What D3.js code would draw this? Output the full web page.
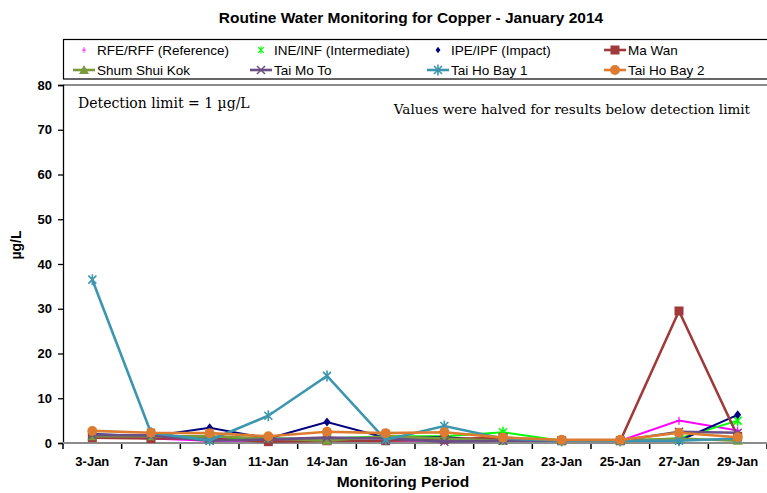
<!DOCTYPE html>
<html><head><meta charset="utf-8">
<script src="https://cdn.jsdelivr.net/npm/d3@7"></script>
<style>body{margin:0;background:#fff}svg{display:block}</style>
</head><body>
<script>
const categories = ["3-Jan","7-Jan","9-Jan","11-Jan","14-Jan","16-Jan","18-Jan","21-Jan","23-Jan","25-Jan","27-Jan","29-Jan"];
const rfe  = [1.5,1.0,0.5,0.5,0.5,0.5,0.5,0.5,0.5,0.5,5.0,2.8];
const ine  = [1.5,1.5,1.0,1.0,1.0,1.5,1.5,2.4,0.5,0.5,1.0,5.0];
const ipe  = [2.0,1.5,3.4,1.0,4.7,1.2,1.3,0.5,0.5,0.5,0.5,6.3];
const maWan = [1.2,1.0,1.0,0.3,0.5,0.5,0.8,1.2,0.5,0.5,29.5,1.5];
const shumShuiKok = [1.5,1.5,1.5,1.0,0.5,1.5,1.0,0.5,0.5,0.5,1.0,0.5];
const taiMoTo = [1.8,1.7,0.5,0.8,1.2,1.0,0.3,0.5,0.5,0.5,2.5,2.3];
const taiHoBay1 = [36.5,2.3,0.6,6.1,15.0,0.7,3.8,1.0,0.5,0.5,0.5,1.0];
const taiHoBay2 = [2.7,2.3,2.2,1.5,2.5,2.2,2.4,1.2,0.7,0.7,2.3,1.3];
const yTicks = [0,10,20,30,40,50,60,70,80];

const series = [
  {name:"RFE/RFF (Reference)", values:rfe, color:"#FF00FF", marker:"plus", legendLine:false},
  {name:"INE/INF (Intermediate)", values:ine, color:"#00FF00", marker:"star", legendLine:false},
  {name:"IPE/IPF (Impact)", values:ipe, color:"#000080", marker:"diamond", legendLine:false},
  {name:"Ma Wan", values:maWan, color:"#A0393A", marker:"square", legendLine:true},
  {name:"Shum Shui Kok", values:shumShuiKok, color:"#7A9A3C", marker:"triangle", legendLine:true},
  {name:"Tai Mo To", values:taiMoTo, color:"#6A4F86", marker:"x", legendLine:true},
  {name:"Tai Ho Bay 1", values:taiHoBay1, color:"#3D96AE", marker:"star", legendLine:true},
  {name:"Tai Ho Bay 2", values:taiHoBay2, color:"#DD7C31", marker:"circle", legendLine:true}
];

const W = 767, H = 493;
const svg = d3.select("body").append("svg").attr("width", W).attr("height", H);
const pLeft = 63, pRight = 767, pTop = 85, pBottom = 443;
const SANS = "Liberation Sans, Arial, sans-serif";

const xBand = d3.scaleBand().domain(categories).range([pLeft, pRight]);
const y = d3.scaleLinear().domain([0, 80]).range([pBottom, pTop]);
const cx = c => xBand(c) + xBand.bandwidth() / 2;

// title
svg.append("text").attr("x", 411).attr("y", 23).attr("text-anchor", "middle")
  .attr("font-family", SANS).attr("font-weight", "bold")
  .attr("font-size", 15.5).text("Routine Water Monitoring for Copper - January 2014");

// plot top border
svg.append("line").attr("x1", pLeft).attr("x2", pRight).attr("y1", pTop).attr("y2", pTop)
  .attr("stroke", "#8c8c8c").attr("stroke-width", 2);

// y axis
const yAxis = d3.axisLeft(y).tickValues(yTicks).tickSize(5).tickPadding(6);
const gy = svg.append("g").attr("transform", `translate(${pLeft},0)`).call(yAxis);
gy.select(".domain").attr("stroke", "#000").attr("stroke-width", 1.3);
gy.selectAll(".tick line").attr("stroke", "#000").attr("stroke-width", 1.3);
gy.selectAll("text").attr("font-family", SANS)
  .attr("font-weight", "bold").attr("font-size", 13).attr("fill", "#000");

// x axis
const xAxis = d3.axisBottom(xBand).tickSize(0).tickPadding(14);
const gx = svg.append("g").attr("transform", `translate(0,${pBottom})`).call(xAxis);
gx.select(".domain").remove();
gx.selectAll("text").attr("font-family", SANS)
  .attr("font-weight", "bold").attr("font-size", 13).attr("fill", "#000");
const bounds = categories.map(c => xBand(c)).concat([pRight]);
svg.append("g").selectAll("line").data(bounds).join("line")
  .attr("x1", d => d).attr("x2", d => d).attr("y1", pBottom).attr("y2", pBottom + 6)
  .attr("stroke", "#000").attr("stroke-width", 1.5);
svg.append("line").attr("x1", pLeft).attr("x2", pRight).attr("y1", pBottom).attr("y2", pBottom)
  .attr("stroke", "#8c8c8c").attr("stroke-width", 2);

// axis titles
svg.append("text").attr("x", 403).attr("y", 487).attr("text-anchor", "middle")
  .attr("font-family", SANS).attr("font-weight", "bold")
  .attr("font-size", 15.5).text("Monitoring Period");
svg.append("text").attr("transform", "translate(21,245) rotate(-90)").attr("text-anchor", "middle")
  .attr("font-family", SANS).attr("font-weight", "bold")
  .attr("font-size", 14).text("µg/L");

// annotations
svg.append("text").attr("x", 78).attr("y", 108)
  .attr("font-family", "DejaVu Serif, serif").attr("font-size", 14)
  .text("Detection limit = 1 µg/L");
svg.append("text").attr("x", 750).attr("y", 114).attr("text-anchor", "end")
  .attr("font-family", "DejaVu Serif, serif").attr("font-size", 13.5)
  .text("Values were halved for results below detection limit");

function drawMarker(g, type, color, x0, y0) {
  if (type === "circle") {
    g.append("circle").attr("cx", x0).attr("cy", y0).attr("r", 5).attr("fill", color);
  } else if (type === "square") {
    g.append("rect").attr("x", x0 - 4.5).attr("y", y0 - 4.5).attr("width", 9).attr("height", 9).attr("fill", color);
  } else if (type === "diamond") {
    g.append("path").attr("d", `M${x0},${y0-4.5}L${x0+3.5},${y0}L${x0},${y0+4.5}L${x0-3.5},${y0}Z`).attr("fill", color);
  } else if (type === "triangle") {
    g.append("path").attr("d", `M${x0},${y0-5}L${x0+5},${y0+4}L${x0-5},${y0+4}Z`).attr("fill", color);
  } else if (type === "x") {
    g.append("path").attr("d", `M${x0-4},${y0-4}L${x0+4},${y0+4}M${x0-4},${y0+4}L${x0+4},${y0-4}`)
      .attr("stroke", color).attr("stroke-width", 1.5);
  } else if (type === "star") {
    g.append("path").attr("d", `M${x0-4},${y0-4}L${x0+4},${y0+4}M${x0-4},${y0+4}L${x0+4},${y0-4}M${x0},${y0-5.5}L${x0},${y0+5.5}`)
      .attr("stroke", color).attr("stroke-width", 1.6);
  } else if (type === "plus") {
    g.append("path").attr("d", `M${x0},${y0-4}L${x0},${y0+4}M${x0-3},${y0}L${x0+3},${y0}`)
      .attr("stroke", color).attr("stroke-width", 1.2);
  }
}

const line = d3.line().x((d, i) => cx(categories[i])).y(d => y(d));
series.forEach(s => {
  const g = svg.append("g");
  g.append("path").datum(s.values).attr("d", line).attr("fill", "none")
    .attr("stroke", s.color).attr("stroke-width", s.legendLine ? 2.6 : 2);
  s.values.forEach((v, i) => drawMarker(g, s.marker, s.color, cx(categories[i]), y(v)));
});

// legend
const lg = svg.append("g");
lg.append("rect").attr("x", 63.5).attr("y", 39.5).attr("width", 720).attr("height", 39.5)
  .attr("fill", "#fff").attr("stroke", "#000").attr("stroke-width", 1.2);
const cols = [73, 250, 427, 604];
series.forEach((s, i) => {
  const row = Math.floor(i / 4), col = i % 4;
  const x0 = cols[col], y0 = 50 + row * 20;
  const g = lg.append("g");
  if (s.legendLine) {
    g.append("line").attr("x1", x0).attr("x2", x0 + 22).attr("y1", y0).attr("y2", y0)
      .attr("stroke", s.color).attr("stroke-width", 2.6);
    drawMarker(g, s.marker, s.color, x0 + 11, y0);
  } else {
    const lgm = g.append("g").attr("transform", `translate(${x0+11},${y0}) scale(0.7) translate(${-(x0+11)},${-y0})`);
    drawMarker(lgm, s.marker, s.color, x0 + 11, y0);
  }
  g.append("text").attr("x", x0 + 24).attr("y", y0 + 4.5)
    .attr("font-family", SANS).attr("font-size", 13.5)
    .text(s.name);
});
</script>
</body></html>
